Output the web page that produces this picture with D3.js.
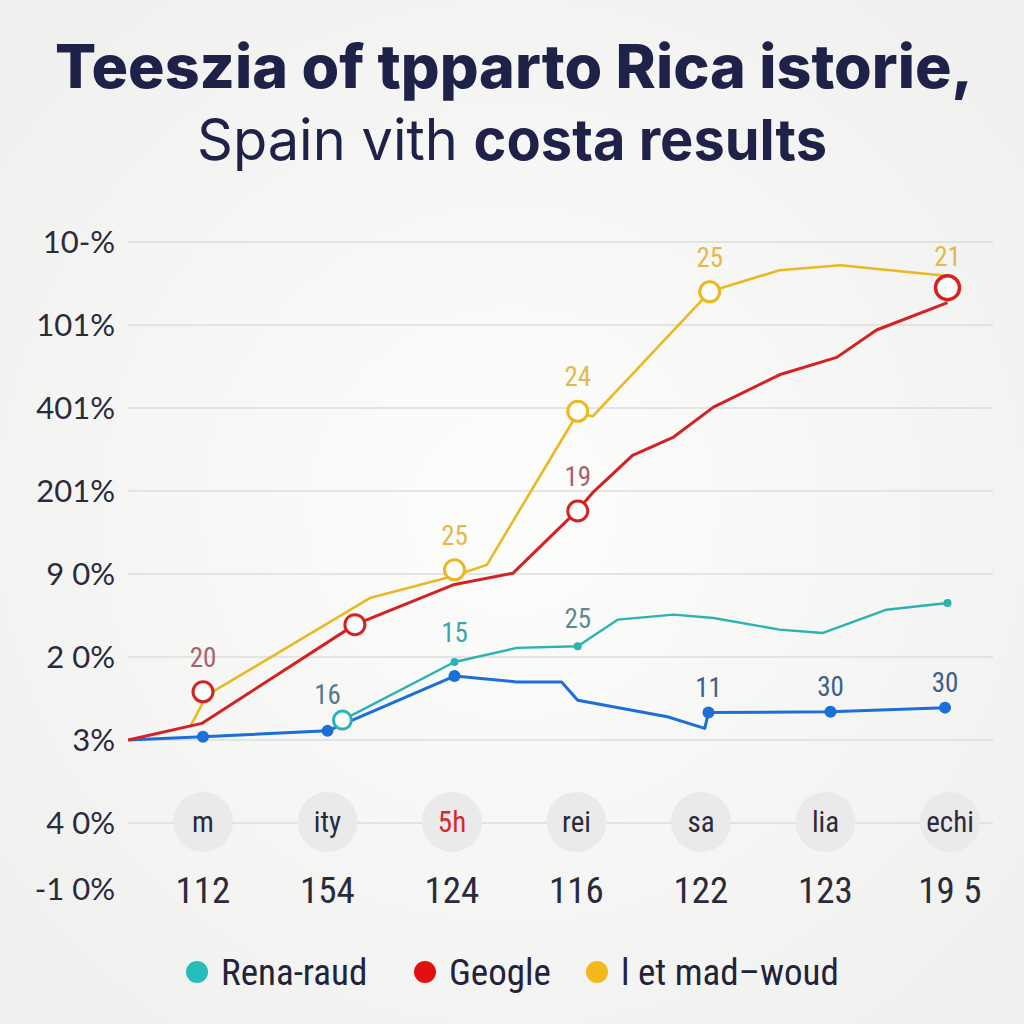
<!DOCTYPE html>
<html><head><meta charset="utf-8">
<script src="https://cdn.jsdelivr.net/npm/d3@7"></script>
<style>html,body{margin:0;padding:0;background:#f7f7f5;}svg{display:block;}</style>
</head><body>
<svg id="c" width="1024" height="1024"></svg>
<script>
// ---- data ----
const titleLine1 = "Teeszia of tpparto Rica istorie,";
const titleLine2a = "Spain vith ";
const titleLine2b = "costa results";
const yTickLabels = ["10-%","101%","401%","201%","9 0%","2 0%","3%","4 0%","-1 0%"];
const yTickValues = [6,5,4,3,2,1,0,-1,-1.8];
const gridValues = [6,5,4,3,2,1,0,-1];
const categories = ["m","ity","5h","rei","sa","lia","echi"];
const categoryNumbers = ["112","154","124","116","122","123","19 5"];
const legendNames = ["Rena-raud","Geogle","l et mad\u2013woud"];

// series as [xIndex, value]
const yellowSeries = [[-0.10,0.17],[0,0.45],[0.10,0.60],[1.34,1.71],[2.02,1.98],[2.28,2.11],[3.01,3.94],[3.13,3.90],[4.07,5.40],[4.17,5.45],[4.63,5.66],[5.12,5.72],[5.98,5.59]];
const redSeries = [[-0.60,0],[-0.01,0.20],[1.22,1.39],[2.01,1.87],[2.49,2.01],[3.01,2.77],[3.13,2.98],[3.45,3.43],[3.78,3.65],[4.10,4.01],[4.63,4.40],[5.09,4.61],[5.41,4.94],[5.98,5.27]];
const tealSeries = [[1.12,0.24],[2.02,0.94],[2.52,1.11],[3.01,1.13],[3.33,1.45],[3.78,1.51],[4.10,1.47],[4.63,1.33],[4.98,1.29],[5.49,1.57],[5.98,1.65]];
const blueSeries = [[-0.60,0],[0,0.04],[1.0,0.11],[2.02,0.77],[2.52,0.70],[2.88,0.70],[3.01,0.48],[3.73,0.28],[4.03,0.14],[4.06,0.33],[5.04,0.34],[5.96,0.39]];

// markers [xIndex, value, label]
const yellowMarkers = [[2.02,2.05,"25"],[3.01,3.96,"24"],[4.07,5.40,"25"]];
const redMarkers = [[0,0.58,"20"],[1.22,1.39,""],[3.01,2.76,"19"]];
const redEndMarker = [[5.98,5.45,"21"]];
const tealOpenMarkers = [[1.12,0.24,""]];
const tealDots = [[2.02,0.94,"15"],[3.01,1.13,"25"],[5.98,1.65,""]];
const blueDots = [[0,0.04,""],[1.0,0.11,"16"],[2.02,0.77,""],[4.06,0.33,"11"],[5.04,0.34,"30"],[5.96,0.39,"30"]];

// ---- drawing ----
const svg = d3.select("#c");
const x = d3.scaleLinear().domain([0,6]).range([203,950]);
const y = d3.scaleLinear().domain([0,6]).range([740,242]);
const narrow = "'Liberation Sans Narrow','Roboto Condensed','Arial Narrow',Roboto,sans-serif";

// background vignette
const defs = svg.append("defs");
const rg = defs.append("radialGradient").attr("id","bg").attr("cx","50%").attr("cy","50%").attr("r","70%");
rg.append("stop").attr("offset","0%").attr("stop-color","#fdfdfb");
rg.append("stop").attr("offset","100%").attr("stop-color","#efefed");
svg.append("rect").attr("width",1024).attr("height",1024).attr("fill","url(#bg)");

// title
svg.append("text").attr("x",514).attr("y",88).attr("text-anchor","middle")
  .attr("font-family","Inter,'Open Sans',sans-serif").attr("font-weight",800).attr("font-size",60)
  .attr("fill","#1e2148").attr("textLength",918).attr("lengthAdjust","spacingAndGlyphs").text(titleLine1);
const t2 = svg.append("text").attr("x",512).attr("y",160).attr("text-anchor","middle")
  .attr("font-family","Inter,'Open Sans',sans-serif").attr("font-size",57).attr("fill","#1e2148")
  .attr("textLength",630).attr("lengthAdjust","spacingAndGlyphs");
t2.append("tspan").attr("font-weight",400).text(titleLine2a);
t2.append("tspan").attr("font-weight",700).text(titleLine2b);

// grid
svg.append("g").selectAll("line").data(gridValues).join("line")
  .attr("x1",128).attr("x2",993).attr("y1",d=>y(d)).attr("y2",d=>y(d))
  .attr("stroke","#dddddd").attr("stroke-width",1.5);

// y labels
svg.append("g").selectAll("text").data(yTickLabels).join("text")
  .attr("x",115).attr("y",(d,i)=>y(yTickValues[i])).attr("dy","0.35em").attr("text-anchor","end")
  .attr("font-family","Lato,'Open Sans',sans-serif").attr("font-size",31).attr("fill","#2a2b3a").text(d=>d);

// category circles
const cg = svg.append("g");
cg.selectAll("circle").data(categories).join("circle")
  .attr("cx",(d,i)=>x(i)).attr("cy",822).attr("r",30).attr("fill","#eaeaea");
cg.selectAll("text.cat").data(categories).join("text").attr("class","cat")
  .attr("x",(d,i)=>x(i)).attr("y",822).attr("dy","0.35em").attr("text-anchor","middle")
  .attr("font-family",narrow).attr("font-size",29)
  .attr("fill",(d,i)=>i===2?"#d42a2a":"#2a2b3a").text(d=>d);
cg.selectAll("text.num").data(categoryNumbers).join("text").attr("class","num")
  .attr("x",(d,i)=>x(i)).attr("y",890).attr("dy","0.35em").attr("text-anchor","middle")
  .attr("font-family",narrow).attr("font-size",37).attr("fill","#2a2b3a").text(d=>d);

// lines
const line = d3.line().x(d=>x(d[0])).y(d=>y(d[1]));
function drawLine(data,color,w){
  svg.append("path").datum(data).attr("d",line).attr("fill","none")
    .attr("stroke",color).attr("stroke-width",w).attr("stroke-linejoin","round");
}
drawLine(yellowSeries,"#eab822",2.6);
drawLine(tealSeries,"#2ab3b3",2.4);
drawLine(blueSeries,"#1c6fd6",3);
drawLine(redSeries,"#d42222",3);

function openMarkers(data,color,r,w){
  svg.append("g").selectAll("circle").data(data).join("circle")
    .attr("cx",d=>x(d[0])).attr("cy",d=>y(d[1])).attr("r",r)
    .attr("fill","#fdfdfb").attr("stroke",color).attr("stroke-width",w);
}
function dots(data,color,r){
  svg.append("g").selectAll("circle").data(data).join("circle")
    .attr("cx",d=>x(d[0])).attr("cy",d=>y(d[1])).attr("r",r).attr("fill",color);
}
function labels(data,color,off){
  svg.append("g").selectAll("text").data(data.filter(d=>d[2])).join("text")
    .attr("x",d=>x(d[0])).attr("y",d=>y(d[1])-off).attr("text-anchor","middle")
    .attr("font-family",narrow).attr("font-size",27).attr("fill",color).text(d=>d[2]);
}
openMarkers(yellowMarkers,"#eab822",10,3);
openMarkers(redMarkers,"#d42222",10,3);
openMarkers(tealOpenMarkers,"#2ab3b3",9,3);
openMarkers(redEndMarker,"#d42222",12,3.5);
dots(tealDots,"#2ab3b3",4);
dots(blueDots,"#1c6fd6",6);

labels(yellowMarkers,"#e3b84c",25);
labels(redMarkers,"#a8606c",25);
labels(redEndMarker,"#e3b84c",22);
labels(tealDots.slice(0,1),"#3aa6ab",20);
labels(tealDots.slice(1),"#5f8a95",18);
labels(blueDots.slice(1,2),"#557a8e",27);
labels(blueDots.slice(3),"#3c5f8a",16);

// legend
const legendColors = ["#27bcbc","#e01010","#f5b81a"];
const legendX = [197,425,597];
const lg = svg.append("g");
lg.selectAll("circle").data(legendNames).join("circle")
  .attr("cx",(d,i)=>legendX[i]).attr("cy",972).attr("r",11).attr("fill",(d,i)=>legendColors[i]);
lg.selectAll("text").data(legendNames).join("text")
  .attr("x",(d,i)=>legendX[i]+24).attr("y",972).attr("dy","0.35em")
  .attr("font-family",narrow).attr("font-size",37).attr("fill","#22233a").text(d=>d);
</script>
</body></html>
